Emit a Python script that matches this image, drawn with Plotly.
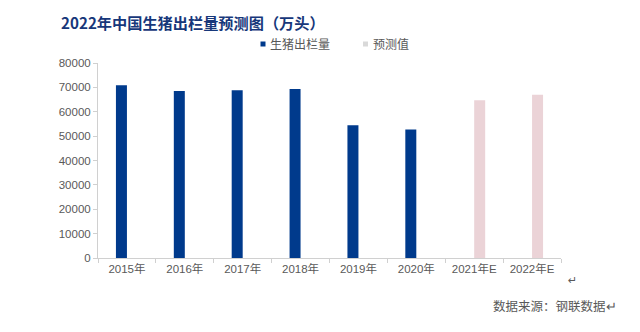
import plotly.graph_objects as go

# Hog slaughter volume in China (10k head); 2021E/2022E are forecasts
years = ["2015年", "2016年", "2017年", "2018年", "2019年", "2020年", "2021年E", "2022年E"]
actual = [70825, 68502, 68861, 69382, 54419, 52704, None, None]
forecast = [None, None, None, None, None, None, 64700, 67000]

NAVY = "#003A8C"
PINK = "#EBD3D7"
GRAY_TXT = "#595959"
AXIS = "#D0D0D0"
BASE_FONT = "Liberation Sans, Noto Sans CJK SC, sans-serif"
CJK_FONT = "Noto Sans CJK SC, sans-serif"

W, H = 640, 332
L, R, T, B = 98, 79, 63, 74


def px_x(px):
    return (px - L) / (W - L - R)


def px_y(py):
    return (H - B - py) / (H - T - B)


fig = go.Figure()
fig.add_trace(go.Bar(x=years, y=actual, name="生猪出栏量", marker_color=NAVY,
                     marker_line_width=0, showlegend=False))
fig.add_trace(go.Bar(x=years, y=forecast, name="预测值", marker_color=PINK,
                     marker_line_width=0, showlegend=False))

fig.update_layout(
    width=W, height=H,
    margin=dict(l=L, r=R, t=T, b=B),
    paper_bgcolor="white", plot_bgcolor="white",
    barmode="group", bargap=0.62, bargroupgap=0,
    font=dict(family=BASE_FONT, color=GRAY_TXT, size=11),
    title=dict(text="<b>2022年中国生猪出栏量预测图（万头）</b>",
               x=61 / W, xanchor="left", y=1 - 24 / H, yanchor="middle",
               font=dict(family=CJK_FONT, size=15.2, color="#17377A")),
)

fig.update_xaxes(
    type="category", showline=True, linecolor=AXIS, linewidth=1,
    ticks="outside", tickson="boundaries", ticklen=4, tickcolor=AXIS,
    showgrid=False, tickfont=dict(size=11.5, color=GRAY_TXT),
)
fig.update_yaxes(
    range=[0, 80000], dtick=10000, tickformat="d",
    showline=True, linecolor=AXIS, linewidth=1,
    ticks="outside", ticklen=4, tickcolor=AXIS, showgrid=False, zeroline=False,
    tickfont=dict(size=11.5, color=GRAY_TXT),
)

# Legend drawn as small squares with labels above the plot
legend_items = [(263, "生猪出栏量", NAVY), (365.5, "预测值", "#D9D9D9")]
for cx, label, color in legend_items:
    fig.add_shape(type="rect", xref="paper", yref="paper",
                  x0=px_x(cx - 2.5), x1=px_x(cx + 2.5),
                  y0=px_y(46.5), y1=px_y(41.5),
                  fillcolor=color, line_width=0)
    fig.add_annotation(text=label, xref="paper", yref="paper",
                       x=px_x(cx + 5), y=px_y(44), xanchor="left", yanchor="middle",
                       showarrow=False,
                       font=dict(family=CJK_FONT, size=12, color=GRAY_TXT))

# Paragraph mark after the axis and the source note
fig.add_annotation(text="↵", xref="paper", yref="paper",
                   x=px_x(572), y=px_y(280), xanchor="center", yanchor="middle",
                   showarrow=False, font=dict(family="DejaVu Sans", size=11, color=GRAY_TXT))
fig.add_annotation(text="数据来源：钢联数据↵", xref="paper", yref="paper",
                   x=px_x(619), y=px_y(305), xanchor="right", yanchor="middle",
                   showarrow=False, font=dict(family=CJK_FONT, size=12.5, color=GRAY_TXT))

fig.write_html("out.html")
